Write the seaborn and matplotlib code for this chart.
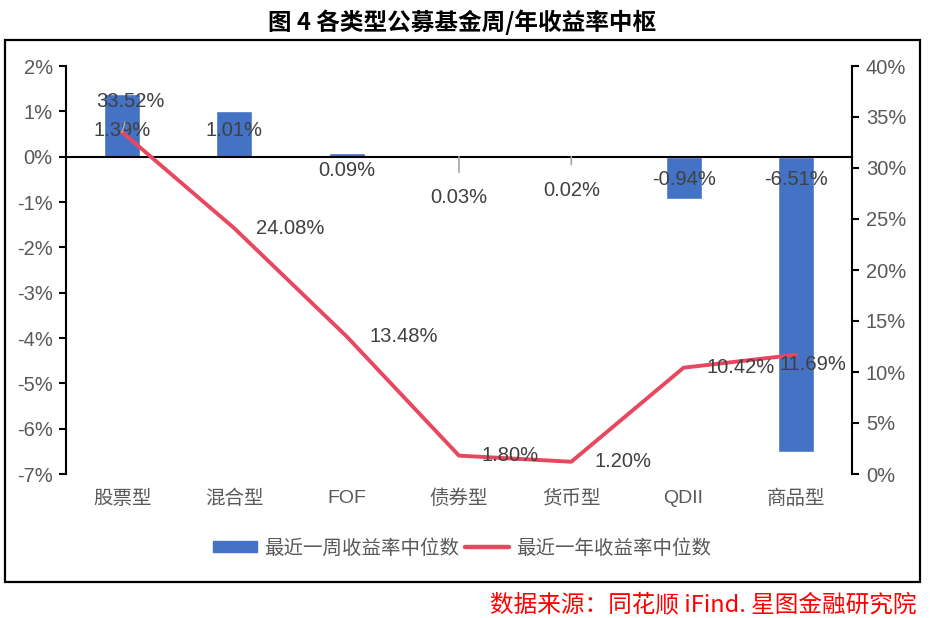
import numpy as np
import pandas as pd
import matplotlib
matplotlib.use("Agg")
import matplotlib.pyplot as plt
import seaborn as sns
from matplotlib.patches import Rectangle, Patch
from matplotlib.lines import Line2D
from matplotlib.ticker import FixedLocator, FuncFormatter

# ---- data ----
categories = ["股票型", "混合型", "FOF", "债券型", "货币型", "QDII", "商品型"]
week_median = [1.39, 1.01, 0.09, 0.03, 0.02, -0.94, -6.51]     # %
year_median = [33.52, 24.08, 13.48, 1.80, 1.20, 10.42, 11.69]  # %
week_label = ["1.39%", "1.01%", "0.09%", "0.03%", "0.02%", "-0.94%", "-6.51%"]
year_label = ["33.52%", "24.08%", "13.48%", "1.80%", "1.20%", "10.42%", "11.69%"]
left_ticks = [-7, -6, -5, -4, -3, -2, -1, 0, 1, 2]
right_ticks = [0, 5, 10, 15, 20, 25, 30, 35, 40]
title = "图 4 各类型公募基金周/年收益率中枢"
legend_names = ["最近一周收益率中位数", "最近一年收益率中位数"]
source = "数据来源：同花顺 iFind. 星图金融研究院"

# ---- label placement (offset points) ----
week_off = [(0, 18.7), (0, 18.7), (0, -10), (0, -29.5), (0, -24), (0, -16.6), (0, -16.6)]
week_leader = [False, False, False, True, True, False, False]
year_off = [(6, 22), (40, 0), (41, 0), (37, 0), (37, 0), (41, 0), (12, -7)]
year_leader = [True, False, False, False, False, False, False]

sns.set_style("white")
plt.rcParams["font.family"] = ["Liberation Sans", "Noto Sans CJK SC", "DejaVu Sans"]
CJK = ["Noto Sans CJK SC", "DejaVu Sans"]

BLUE = "#4472C4"
RED = "#E8485F"
TICK_C = "#595959"
LAB_C = "#404040"
NUM_FS = 14.5

fig = plt.figure(figsize=(9.3, 6.18), dpi=100)
ax = fig.add_axes([66/930, 1-474/618, (852-66)/930, (474-66)/618])

df = pd.DataFrame({"cat": categories, "week": week_median})
sns.barplot(data=df, x="cat", y="week", ax=ax, color=BLUE, saturation=1,
            width=0.32, order=categories)
ax.set_xlim(-0.5, len(categories) - 0.5)
ax.set_ylim(-7, 2)
ax.set_xlabel("")
ax.set_ylabel("")

# left axis
ax.yaxis.set_major_locator(FixedLocator(left_ticks))
ax.yaxis.set_major_formatter(FuncFormatter(lambda v, p: f"{int(round(v))}%"))
ax.tick_params(axis="y", direction="out", length=5, width=1.5, color="black",
               labelsize=NUM_FS, labelcolor=TICK_C, pad=4.5)
for s in ["top", "right"]:
    ax.spines[s].set_visible(False)
ax.spines["left"].set_color("black")
ax.spines["left"].set_linewidth(1.5)
ax.spines["bottom"].set_position(("data", 0))
ax.spines["bottom"].set_color("black")
ax.spines["bottom"].set_linewidth(1.5)
ax.xaxis.set_major_locator(FixedLocator(np.arange(0.5, len(categories) - 1, 1.0)))
ax.xaxis.set_major_formatter(FuncFormatter(lambda v, p: ""))
ax.tick_params(axis="x", direction="out", length=5, width=1.5, color="black")

for i, c in enumerate(categories):
    ax.annotate(c, xy=(i, 0), xycoords=("data", "axes fraction"),
                xytext=(0, -17.5), textcoords="offset points",
                ha="center", va="center", fontsize=14, color=TICK_C,
                family=["Liberation Sans"] + CJK if c.isascii() else CJK)

# bar labels
for i, (v, lab) in enumerate(zip(week_median, week_label)):
    dx, dy = week_off[i]
    kw = {}
    if week_leader[i]:
        kw["arrowprops"] = dict(arrowstyle="-", color="#A6A6A6", lw=1.2,
                                shrinkA=9, shrinkB=0)
    ax.annotate(lab, xy=(i, 0), xytext=(dx, dy), textcoords="offset points",
                ha="center", va="center", fontsize=NUM_FS, color=LAB_C, **kw)

# right axis with line
ax2 = ax.twinx()
ax2.set_position(ax.get_position())
sns.lineplot(x=np.arange(len(categories)), y=year_median, ax=ax2, color=RED,
             lw=2.8, solid_capstyle="round")
ax2.set_ylim(0, 40)
ax2.set_xlim(-0.5, len(categories) - 0.5)
ax2.yaxis.set_major_locator(FixedLocator(right_ticks))
ax2.yaxis.set_major_formatter(FuncFormatter(lambda v, p: f"{int(round(v))}%"))
ax2.tick_params(axis="y", direction="out", length=5, width=1.5, color="black",
                labelsize=NUM_FS, labelcolor=TICK_C, pad=5)
for s in ["top", "left", "bottom"]:
    ax2.spines[s].set_visible(False)
ax2.spines["right"].set_visible(True)
ax2.spines["right"].set_color("black")
ax2.spines["right"].set_linewidth(1.5)
ax2.set_ylabel("")

for i, (v, lab) in enumerate(zip(year_median, year_label)):
    dx, dy = year_off[i]
    kw = {}
    if year_leader[i]:
        kw["arrowprops"] = dict(arrowstyle="-", color="#A6A6A6", lw=1.2,
                                shrinkA=6, shrinkB=0)
    ax2.annotate(lab, xy=(i, v), xytext=(dx, dy), textcoords="offset points",
                 ha="center", va="center", fontsize=NUM_FS, color=LAB_C, **kw)

# legend
handles = [Patch(facecolor=BLUE, edgecolor=BLUE),
           Line2D([0], [0], color=RED, lw=3.2, solid_capstyle="round")]
fig.legend(handles, legend_names, loc="center", bbox_to_anchor=(462/930, 1-548/618),
           ncol=2, frameon=False, prop={"family": CJK, "size": 14}, labelcolor=TICK_C,
           handlelength=2.3, handleheight=0.55, columnspacing=0.26, handletextpad=0.36)

# title
fig.text(462/930, 1-22/618, title, ha="center", va="center", fontsize=17,
         fontweight="bold", color="black", family=CJK)

# border box
fig.patches.append(Rectangle((5/930, 1-582/618), (920-5)/930, (582-40)/618,
                             transform=fig.transFigure, fill=False,
                             edgecolor="black", lw=1.6))

# source
fig.text(916/930, 1-605/618, source, ha="right", va="center", fontsize=17,
         color="red", style="italic", family=CJK)

fig.savefig("out.png", dpi=100)
